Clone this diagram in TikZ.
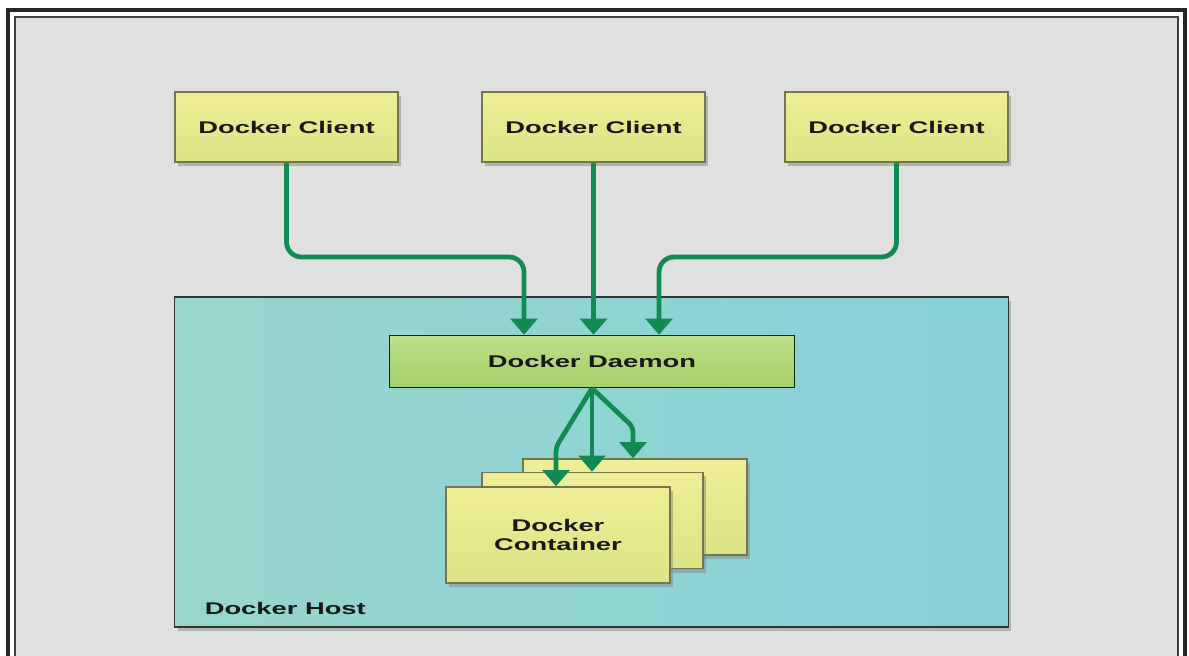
\documentclass[tikz,border=0pt]{standalone}
\usepackage{fontspec}
\setmainfont{Liberation Sans}
\newfontfamily\widefont[FakeStretch=1.62]{Liberation Sans}
\usetikzlibrary{arrows.meta,shadows,calc}
\definecolor{bggray}{RGB}{224,224,224}
\definecolor{flowgreen}{RGB}{18,138,84}
\definecolor{clienttop}{RGB}{238,238,150}
\definecolor{clientbot}{RGB}{220,228,134}
\definecolor{hostleft}{RGB}{152,214,204}
\definecolor{hostmid}{RGB}{180,225,206}
\definecolor{hostright}{RGB}{136,209,217}
\definecolor{daemontop}{RGB}{188,223,136}
\definecolor{daemonbot}{RGB}{166,208,106}
\definecolor{boxline}{RGB}{118,118,78}
\tikzset{
  doctext/.style = {font=\widefont\fontsize{4.8}{5.1}\selectfont\bfseries, text=black!90},
  softshadow/.style = {drop shadow={opacity=0.45, shadow xshift=0.03cm, shadow yshift=-0.04cm}},
  client/.style = {doctext, draw=boxline, top color=clienttop, bottom color=clientbot,
                   minimum width=2.23cm, minimum height=0.70cm, inner sep=0pt, softshadow},
  container/.style = {doctext, draw=boxline, top color=clienttop, bottom color=clientbot,
                   minimum width=2.24cm, minimum height=0.96cm, inner sep=0pt, align=center, softshadow},
  flow/.style = {draw=flowgreen, line width=1.35pt, rounded corners=0.15cm,
                 -{Triangle[width=7.6pt,length=4.6pt]}}
}

\begin{document}
\begin{tikzpicture}[x=0.01cm, y=-0.01cm]
	\useasboundingbox (0,0) rectangle (1189,655);
	\fill[white] (0,0) rectangle (1189,655);

	% Frame
	\fill[bggray] (15,17) rectangle (1178,680);
	\draw[black!85, line width=0.9pt] (8,10) rectangle (1185,690);
	\draw[black!75, line width=0.45pt] (15,17) rectangle (1178,680);

	% Host
	\node[draw=black!80, left color=hostleft, middle color=hostmid, right color=hostright,
	      minimum width=8.33cm, minimum height=3.30cm, inner sep=0pt, softshadow] (host) at (591.5,462) {};
	\node[doctext, anchor=west, inner sep=0pt] (hostname) at ($(host.south west)+(30,-19)$) {Docker Host};

	% Clients
	\node[client] (client1) at (286.5,127) {Docker Client};
	\node[client] (client2) at (593.5,127) {Docker Client};
	\node[client] (client3) at (896.5,127) {Docker Client};

	% Daemon
	\node[doctext, draw=black!70!green!60!black, top color=daemontop, bottom color=daemonbot,
	      minimum width=4.05cm, minimum height=0.52cm, inner sep=0pt] (daemon) at (592,361.5) {Docker Daemon};

	% Containers
	\node[container] (back) at (635,507) {};
	\node[container, minimum width=2.21cm] (middle) at (592.5,520.5) {};
	\node[container] (front) at (558,535) {Docker\\[0.5pt]Container};

	% Client -> daemon
	\coordinate (j1) at (524,257);
	\coordinate (j3) at (659,257);
	\draw[flow] (client1.south) |- (j1) -- (j1 |- daemon.north);
	\draw[flow] (client2.south) -- (client2.south |- daemon.north);
	\draw[flow] (client3.south) |- (j3) -- (j3 |- daemon.north);

	% Daemon -> containers
	\coordinate (d1) at (556,447);
	\coordinate (d3) at (633,427);
	\draw[flow, rounded corners=0.05cm] (daemon.south) -- (d1) -- (d1 |- front.north);
	\draw[flow] (daemon.south) -- (daemon.south |- middle.north);
	\draw[flow, rounded corners=0.05cm] (daemon.south) -- (d3) -- (d3 |- back.north);
\end{tikzpicture}
\end{document}
